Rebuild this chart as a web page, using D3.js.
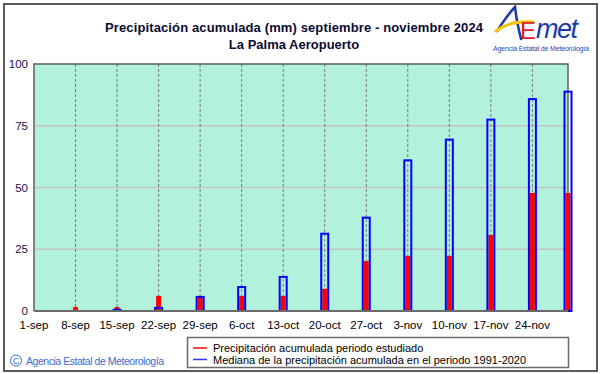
<!DOCTYPE html>
<html>
<head>
<meta charset="utf-8">
<script src="https://cdn.jsdelivr.net/npm/d3@7.9.0/dist/d3.min.js"></script>
<style>
  body { margin: 0; background: #fff; }
  text { font-family: "Liberation Sans", Arial, sans-serif; }
</style>
</head>
<body>
<div id="chart"></div>
<script>
// data
const tickDays = [0, 7, 14, 21, 28, 35, 42, 49, 56, 63, 70, 77, 84];
const tickLabels = ['1-sep', '8-sep', '15-sep', '22-sep', '29-sep', '6-oct', '13-oct',
    '20-oct', '27-oct', '3-nov', '10-nov', '17-nov', '24-nov'];
const barDays = [7, 14, 21, 28, 35, 42, 49, 56, 63, 70, 77, 84, 90];
const observed = [1.6, 1.6, 6.1, 6.1, 6.1, 6.1, 9.0, 20.2, 22.3, 22.3, 30.8, 47.8, 47.8];
const median = [0, 0.9, 1.7, 6.1, 10.1, 14.2, 31.7, 38.2, 61.4, 69.8, 77.9, 86.2, 89.2];
const yTicks = [0, 25, 50, 75, 100];

const width = 601;
const height = 374;
const plot = { left: 34, right: 568, top: 64, bottom: 311 };

const svg = d3.select('#chart').append('svg')
    .attr('width', width)
    .attr('height', height);

// outer frame
svg.append('rect')
    .attr('x', 4).attr('y', 4)
    .attr('width', 593).attr('height', 367)
    .attr('fill', '#fff')
    .attr('stroke', '#5a5a5a')
    .attr('stroke-width', 2);

const xScale = d3.scaleLinear().domain([0, 90]).range([plot.left, plot.right]);
const yScale = d3.scaleLinear().domain([0, 100]).range([plot.bottom, plot.top]);

// plot background
svg.append('rect')
    .attr('x', plot.left).attr('y', plot.top)
    .attr('width', plot.right - plot.left)
    .attr('height', plot.bottom - plot.top)
    .attr('fill', '#b2f2dc');

// horizontal gridlines
svg.append('g')
    .selectAll('line')
    .data(yTicks.filter(d => d > 0 && d < 100))
    .join('line')
    .attr('x1', plot.left).attr('x2', plot.right)
    .attr('y1', d => yScale(d)).attr('y2', d => yScale(d))
    .attr('stroke', '#c4c4c4')
    .attr('stroke-width', 1.5);

// vertical dashed gridlines
svg.append('g')
    .selectAll('line')
    .data(tickDays.slice(1))
    .join('line')
    .attr('x1', d => xScale(d)).attr('x2', d => xScale(d))
    .attr('y1', plot.top).attr('y2', plot.bottom)
    .attr('stroke', '#7a7a7a')
    .attr('stroke-width', 1)
    .attr('stroke-dasharray', '3,2');

// plot border
svg.append('path')
    .attr('d', `M${plot.left},${plot.bottom}V${plot.top}H${plot.right}V${plot.bottom}`)
    .attr('fill', 'none')
    .attr('stroke', '#5e5e5e')
    .attr('stroke-width', 1.5);

// observed (red) bars
svg.append('g')
    .selectAll('rect')
    .data(barDays.map((d, i) => ({ day: d, v: observed[i] })))
    .join('rect')
    .attr('x', d => xScale(d.day) - 2.5)
    .attr('width', 5)
    .attr('y', d => yScale(d.v))
    .attr('height', d => yScale(0) - yScale(d.v))
    .attr('fill', '#ff0000');

// median (blue outline) bars
svg.append('g')
    .selectAll('rect')
    .data(barDays.map((d, i) => ({ day: d, v: median[i] })).filter(d => d.v > 0))
    .join('rect')
    .attr('x', d => xScale(d.day) - 3.5)
    .attr('width', 7)
    .attr('y', d => yScale(d.v) + 1)
    .attr('height', d => Math.max(yScale(0) - yScale(d.v) - 1, 0.5))
    .attr('fill', 'none')
    .attr('stroke', '#0000ff')
    .attr('stroke-width', 2);

// bottom axis line
svg.append('line')
    .attr('x1', plot.left).attr('x2', plot.right)
    .attr('y1', plot.bottom).attr('y2', plot.bottom)
    .attr('stroke', '#6a6a6a')
    .attr('stroke-width', 2);

// y tick labels
svg.append('g')
    .selectAll('text')
    .data(yTicks)
    .join('text')
    .attr('x', 28)
    .attr('y', d => yScale(d) + 4)
    .attr('text-anchor', 'end')
    .attr('font-size', 11.5)
    .attr('fill', '#1a1050')
    .text(d => d);

// x tick labels
svg.append('g')
    .selectAll('text')
    .data(tickDays)
    .join('text')
    .attr('x', d => xScale(d))
    .attr('y', 329)
    .attr('text-anchor', 'middle')
    .attr('font-size', 11.5)
    .attr('fill', '#000')
    .text((d, i) => tickLabels[i]);

// title
svg.append('text')
    .attr('x', 294).attr('y', 32)
    .attr('text-anchor', 'middle')
    .attr('font-size', 13).attr('font-weight', 'bold')
    .attr('fill', '#0a0a30')
    .attr('textLength', 378)
    .text('Precipitación acumulada (mm) septiembre  - noviembre 2024');
svg.append('text')
    .attr('x', 294).attr('y', 49)
    .attr('text-anchor', 'middle')
    .attr('font-size', 13).attr('font-weight', 'bold')
    .attr('fill', '#0a0a30')
    .text('La Palma Aeropuerto');

// legend
const legend = svg.append('g');
legend.append('rect')
    .attr('x', 187.5).attr('y', 337.5)
    .attr('width', 381).attr('height', 30)
    .attr('fill', '#fff')
    .attr('stroke', '#6a6a6a')
    .attr('stroke-width', 1.5);
const legendItems = [
    { color: '#ff0000', label: 'Precipitación acumulada periodo estudiado' },
    { color: '#3030ff', label: 'Mediana de la precipitación acumulada en el periodo 1991-2020' }
];
legendItems.forEach((item, i) => {
    const y = 348 + i * 11.5;
    legend.append('line')
        .attr('x1', 193).attr('x2', 207)
        .attr('y1', y).attr('y2', y)
        .attr('stroke', item.color)
        .attr('stroke-width', 1.5);
    legend.append('text')
        .attr('x', 213).attr('y', y + 4)
        .attr('font-size', 11)
        .attr('fill', '#000')
        .text(item.label);
});

// copyright
svg.append('circle')
    .attr('cx', 16).attr('cy', 360.5).attr('r', 5.5)
    .attr('fill', 'none').attr('stroke', '#3a6cd0').attr('stroke-width', 1);
svg.append('text')
    .attr('x', 16).attr('y', 364)
    .attr('text-anchor', 'middle')
    .attr('font-size', 9).attr('fill', '#3a6cd0')
    .text('C');
svg.append('text')
    .attr('x', 26).attr('y', 365)
    .attr('font-size', 10.5).attr('fill', '#3a6cd0')
    .attr('textLength', 138)
    .text('Agencia Estatal de Meteorología');

// AEMET logo (approximation)
const logo = svg.append('g');
logo.append('path')
    .attr('d', 'M497,31 C503,22 510,12 515,7 C516,16 518,27 521,39')
    .attr('fill', 'none').attr('stroke', '#1a3aa8').attr('stroke-width', 2.5)
    .attr('stroke-linecap', 'round');
logo.append('path')
    .attr('d', 'M496,31 C505,24 518,21 533,22')
    .attr('fill', 'none').attr('stroke', '#f5c400').attr('stroke-width', 3)
    .attr('stroke-linecap', 'round');
logo.append('text')
    .attr('x', 520).attr('y', 39)
    .attr('font-size', 24).attr('fill', '#e0201a')
    .attr('font-family', 'DejaVu Sans')
    .text('E');
logo.append('text')
    .attr('x', 536).attr('y', 38)
    .attr('font-size', 27).attr('font-style', 'italic')
    .attr('fill', '#1a3aa8')
    .attr('font-family', 'DejaVu Sans')
    .attr('letter-spacing', -1.5)
    .text('met');
logo.append('text')
    .attr('x', 541).attr('y', 51)
    .attr('text-anchor', 'middle')
    .attr('font-size', 7).attr('fill', '#2a4ab0')
    .attr('textLength', 96)
    .text('Agencia Estatal de Meteorología');
</script>
</body>
</html>
